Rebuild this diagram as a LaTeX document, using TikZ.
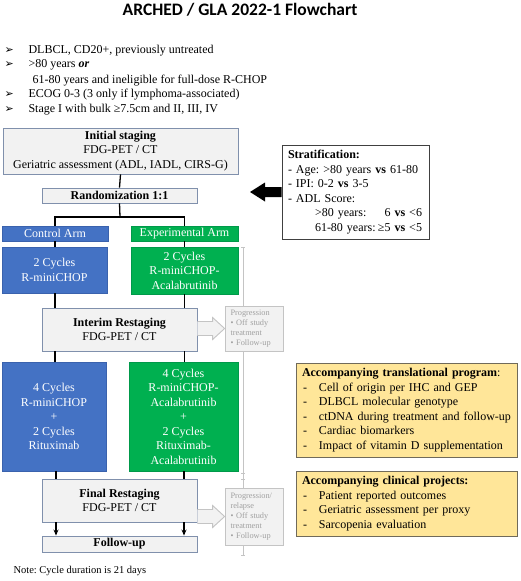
\documentclass[tikz,border=0pt]{standalone}
\usepackage{fontspec}
\setmainfont{Liberation Serif}
\newfontfamily\titlefont{Carlito}
\newfontfamily\symfont{DejaVu Sans}
\usetikzlibrary{calc,arrows.meta}
\frenchspacing
\definecolor{boxgray}{HTML}{F2F2F2}
\definecolor{bordgray}{HTML}{8090AC}
\definecolor{armblue}{HTML}{4472C4}
\definecolor{armblueD}{HTML}{3A62AD}
\definecolor{armgreen}{HTML}{00B050}
\definecolor{armgreenD}{HTML}{00994A}
\definecolor{progline}{HTML}{C4C4C4}
\definecolor{progtext}{HTML}{A0A0A0}
\definecolor{yel}{HTML}{FFE699}
\definecolor{yelD}{HTML}{706A5A}
\tikzset{
  graybox/.style={draw=bordgray, fill=boxgray, line width=0.9pt, inner sep=0pt, align=center},
  bluebox/.style={draw=armblueD, fill=armblue, text=white, line width=0.6pt, inner sep=0pt, align=center},
  greenbox/.style={draw=armgreenD, fill=armgreen, text=white, line width=0.6pt, inner sep=0pt, align=center},
  progbox/.style={draw=progline, fill=boxgray, text=progtext, line width=0.8pt, inner xsep=5.5pt, inner ysep=0pt,
    text width=47pt, align=left, font=\fontsize{8.3}{10}\selectfont},
  yelbox/.style={draw=yelD, fill=yel, line width=1pt, inner xsep=6pt, inner ysep=0pt, align=left, text width=209pt},
  conn/.style={line width=1.3pt, black},
  hollow/.style={draw=progline, fill=boxgray, line width=0.9pt},
  tline/.style={draw=progline, line width=1pt},
  bmark/.style={anchor=base west, font=\symfont\bfseries\fontsize{11}{11}\selectfont},
  btext/.style={anchor=base west}
}
\begin{document}
\begin{tikzpicture}[x=1pt,y=-1pt,font=\fontsize{12}{14.5}\selectfont]
\useasboundingbox[fill=white] (0,0) rectangle (520,581);

% title
\node[anchor=base, font=\titlefont\bfseries\fontsize{17.5}{20}\selectfont] (title) at (240,15.5) {ARCHED / GLA 2022-1 Flowchart};

% inclusion criteria
\node[bmark] (m1) at (1,53) {➢};
\node[bmark] (m2) at (1,67) {➢};
\node[bmark] (m3) at (1,97) {➢};
\node[bmark] (m4) at (1,112) {➢};
\node[btext] (b1) at (25,53) {DLBCL, CD20+, previously untreated};
\node[btext] (b2) at (25,67) {>80 years \textbf{\textit{or}}};
\node[btext] (b2b) at (29,83) {61-80 years and ineligible for full-dose R-CHOP};
\node[btext] (b3) at (25,97) {ECOG 0-3 (3 only if lymphoma-associated)};
\node[btext] (b4) at (25,112) {Stage I with bulk ≥7.5cm and II, III, IV};

% gray timeline
\coordinate (t0) at (243,247);
\coordinate (t1) at (243,555);
\draw[tline] (t0) -- (t1);
\foreach \yy in {247,473,479,555} \draw[progline, line width=0.8pt] (241,\yy) -- (245,\yy);

% main flow
\node[graybox, minimum width=235pt, minimum height=46pt] (init) at (120.5,151)
  {\textbf{Initial staging}\\FDG-PET / CT\\Geriatric assessment (ADL, IADL, CIRS-G)};
\node[graybox, minimum width=155pt, minimum height=15pt] (rand) at (119.5,195.5) {\textbf{Randomization 1:1}};
\node[bluebox, minimum width=106pt, minimum height=15pt] (ctrl) at (55,233.5) {Control Arm};
\node[greenbox, minimum width=107pt, minimum height=15pt] (exp) at (184.5,233.5) {Experimental Arm};
\node[bluebox, minimum width=105pt, minimum height=46pt] (c2) at (54.5,270) {2 Cycles\\R-miniCHOP};
\node[greenbox, minimum width=107pt, minimum height=47pt] (e2) at (184.5,270.5) {2 Cycles\\R-miniCHOP-\\Acalabrutinib};
\node[graybox, minimum width=155pt, minimum height=43pt] (interim) at (119.5,329.5) {\textbf{Interim Restaging}\\FDG-PET / CT};
\node[progbox, minimum width=58pt, minimum height=45pt] (prog1) at (254,328.5) {Progression\\• Off study\\treatment\\• Follow-up};
\node[bluebox, minimum width=104pt, minimum height=109pt] (c4) at (54,416.5) {4 Cycles\\R-miniCHOP\\+\\2 Cycles\\Rituximab};
\node[greenbox, minimum width=109pt, minimum height=109pt] (e4) at (183.5,416.5) {4 Cycles\\R-miniCHOP-\\Acalabrutinib\\+\\2 Cycles\\Rituximab-\\Acalabrutinib};
\node[graybox, minimum width=155pt, minimum height=43pt] (final) at (119.5,500.5) {\textbf{Final Restaging}\\FDG-PET / CT};
\node[graybox, minimum width=155pt, minimum height=16pt] (follow) at (119.5,544) {\textbf{Follow-up}};
\node[progbox, minimum width=58pt, minimum height=57pt] (prog2) at (254,516.5) {Progression/\\relapse\\• Off study\\treatment\\• Follow-up};

% connectors
\coordinate (split) at (120,217);
\draw[conn] (init.south) -- (rand.north);
\draw[conn] (rand.south) -- (split);
\draw[conn] (ctrl.north) -- (ctrl.north |- split) -- (exp.north |- split) -- (exp.north);
\draw[conn] (ctrl.south) -- (ctrl.south |- c2.north);
\draw[conn] (exp.south) -- (exp.south |- e2.north);
\draw[conn] (ctrl.south |- c2.south) -- (ctrl.south |- interim.north);
\draw[conn] (exp.south |- e2.south) -- (exp.south |- interim.north);
\draw[conn] (ctrl.south |- interim.south) -- (ctrl.south |- c4.north);
\draw[conn] (exp.south |- interim.south) -- (exp.south |- e4.north);
\draw[conn] (56,471) coordinate (cc) -- (cc |- final.north);
\draw[conn] (184,471) coordinate (ee) -- (ee |- final.north);
\draw[conn, -{Stealth[length=6pt,width=5pt]}] (cc |- final.south) -- (cc |- follow.north);
\draw[conn, -{Stealth[length=6pt,width=5pt]}] (ee |- final.south) -- (ee |- follow.north);

% hollow arrows
\coordinate (a1) at (interim.east |- prog1.west);
\coordinate (h1) at (prog1.west);
\draw[hollow] ($(a1)+(0,-7)$) -- ($(h1)+(-12,-7)$) -- ($(h1)+(-12,-11)$) -- (h1) -- ($(h1)+(-12,11)$) -- ($(h1)+(-12,7)$) -- ($(a1)+(0,7)$);
\coordinate (a2) at (final.east |- prog2.west);
\coordinate (h2) at (prog2.west);
\draw[hollow] ($(a2)+(0,-7)$) -- ($(h2)+(-12,-7)$) -- ($(h2)+(-12,-11)$) -- (h2) -- ($(h2)+(-12,11)$) -- ($(h2)+(-12,7)$) -- ($(a2)+(0,7)$);

% stratification
\node[draw=black!75, fill=white, line width=0.8pt, inner xsep=6pt, inner ysep=0pt, minimum width=147pt, minimum height=94pt, text width=135pt, align=left] (strat) at (355.5,192)
  {\textbf{Stratification:}\\
   - Age: >80 years \textbf{vs} 61-80\\
   - IPI: 0-2 \textbf{vs} 3-5\\
   - ADL Score:\\
   \makebox[134pt][l]{\hspace*{27pt}>80 years:\hfill 6 \textbf{vs} <6}\\
   \makebox[134pt][l]{\hspace*{27pt}61-80 years:\hfill ≥5 \textbf{vs} <5}};
\coordinate (stip) at (250,192);
\fill[black] ($(strat.west)+(0,-5)$) -- ($(stip)+(15,-5)$) -- ($(stip)+(15,-9.5)$) -- (stip) -- ($(stip)+(15,9.5)$) -- ($(stip)+(15,5)$) -- ($(strat.west)+(0,5)$) -- cycle;

% accompanying programs
\node[yelbox, minimum height=94pt] (trans) at (406.5,410)
  {\textbf{Accompanying translational program}:\\
   \makebox[17pt][l]{\hspace*{1pt}-}Cell of origin per IHC and GEP\\
   \makebox[17pt][l]{\hspace*{1pt}-}DLBCL molecular genotype\\
   \makebox[17pt][l]{\hspace*{1pt}-}ctDNA during treatment and follow-up\\
   \makebox[17pt][l]{\hspace*{1pt}-}Cardiac biomarkers\\
   \makebox[17pt][l]{\hspace*{1pt}-}Impact of vitamin D supplementation};
\node[yelbox, minimum height=65pt] (clin) at (406.5,503.5)
  {\textbf{Accompanying clinical projects:}\\
   \makebox[17pt][l]{\hspace*{1pt}-}Patient reported outcomes\\
   \makebox[17pt][l]{\hspace*{1pt}-}Geriatric assessment per proxy\\
   \makebox[17pt][l]{\hspace*{1pt}-}Sarcopenia evaluation};

% note
\node[btext, font=\fontsize{10.5}{12}\selectfont] (note) at (10,573) {Note: Cycle duration is 21 days};
\end{tikzpicture}
\end{document}
